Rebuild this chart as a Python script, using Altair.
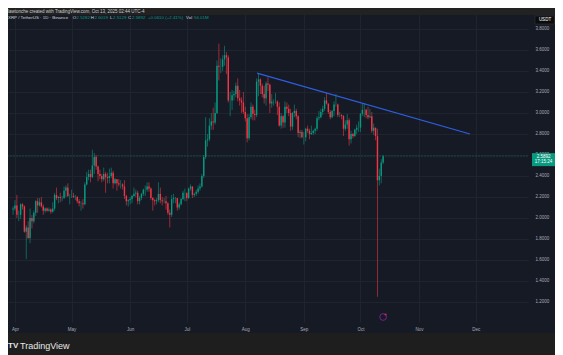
import altair as alt
import pandas as pd

# ---- Daily candles XRP/USDT (Binance, 1D), 2025-03-31 .. 2025-10-13 ----
mar_o = [2.08]
mar_h = [2.11]
mar_l = [2.03]
mar_c = [2.09]

apr_o = [2.09, 2.12, 2.03, 2.03, 2.13, 2.11, 1.87, 1.91, 1.81, 2.00, 1.97, 2.05, 2.16, 2.12, 2.15,
         2.11, 2.07, 2.09, 2.07, 2.08, 2.06, 2.09, 2.22, 2.19, 2.20, 2.19, 2.19, 2.26, 2.29, 2.21]
apr_h = [2.17, 2.22, 2.07, 2.14, 2.14, 2.12, 1.93, 1.97, 2.09, 2.03, 2.07, 2.17, 2.19, 2.19, 2.20,
         2.13, 2.10, 2.10, 2.10, 2.09, 2.15, 2.24, 2.29, 2.21, 2.24, 2.21, 2.30, 2.31, 2.33, 2.23]
apr_l = [2.07, 2.00, 1.97, 1.99, 2.08, 1.86, 1.61, 1.80, 1.76, 1.90, 1.95, 2.02, 2.05, 2.11, 2.10,
         2.03, 2.05, 2.06, 2.06, 2.04, 2.05, 2.07, 2.17, 2.14, 2.15, 2.16, 2.18, 2.20, 2.20, 2.13]
apr_c = [2.12, 2.03, 2.03, 2.13, 2.11, 1.87, 1.91, 1.81, 2.00, 1.97, 2.05, 2.16, 2.12, 2.15, 2.11,
         2.07, 2.09, 2.07, 2.08, 2.06, 2.09, 2.22, 2.19, 2.20, 2.19, 2.19, 2.26, 2.29, 2.21, 2.21]

may_o = [2.21, 2.21, 2.20, 2.20, 2.16, 2.14, 2.14, 2.13, 2.32, 2.39, 2.42, 2.39, 2.50, 2.58, 2.49, 2.42,
         2.40, 2.37, 2.42, 2.39, 2.38, 2.40, 2.43, 2.33, 2.37, 2.33, 2.32, 2.32, 2.30, 2.21, 2.16]
may_h = [2.27, 2.24, 2.22, 2.21, 2.18, 2.16, 2.18, 2.34, 2.44, 2.46, 2.46, 2.65, 2.62, 2.60, 2.50, 2.46,
         2.42, 2.48, 2.44, 2.43, 2.47, 2.48, 2.45, 2.38, 2.37, 2.37, 2.36, 2.33, 2.36, 2.22, 2.18]
may_l = [2.19, 2.19, 2.17, 2.14, 2.11, 2.07, 2.09, 2.12, 2.31, 2.36, 2.34, 2.38, 2.42, 2.46, 2.35, 2.37,
         2.34, 2.35, 2.24, 2.33, 2.33, 2.38, 2.28, 2.32, 2.26, 2.30, 2.28, 2.27, 2.18, 2.12, 2.11]
may_c = [2.21, 2.20, 2.20, 2.16, 2.14, 2.14, 2.13, 2.32, 2.39, 2.42, 2.39, 2.50, 2.58, 2.49, 2.42, 2.40,
         2.37, 2.42, 2.39, 2.38, 2.40, 2.43, 2.33, 2.37, 2.33, 2.32, 2.32, 2.30, 2.21, 2.16, 2.17]

jun_o = [2.17, 2.18, 2.21, 2.23, 2.24, 2.16, 2.19, 2.23, 2.27, 2.27, 2.30, 2.28, 2.19, 2.17, 2.16,
         2.17, 2.23, 2.17, 2.16, 2.16, 2.14, 2.05, 2.03, 2.18, 2.19, 2.19, 2.10, 2.13, 2.18, 2.24]
jun_h = [2.20, 2.22, 2.29, 2.27, 2.26, 2.21, 2.24, 2.28, 2.31, 2.34, 2.34, 2.29, 2.20, 2.18, 2.19,
         2.34, 2.29, 2.20, 2.19, 2.21, 2.15, 2.08, 2.22, 2.23, 2.20, 2.19, 2.15, 2.19, 2.26, 2.28]
jun_l = [2.13, 2.14, 2.20, 2.20, 2.13, 2.13, 2.17, 2.21, 2.21, 2.25, 2.25, 2.17, 2.07, 2.12, 2.13,
         2.15, 2.14, 2.12, 2.14, 2.08, 2.03, 1.91, 2.01, 2.14, 2.14, 2.07, 2.08, 2.12, 2.17, 2.16]
jun_c = [2.18, 2.21, 2.23, 2.24, 2.16, 2.19, 2.23, 2.27, 2.27, 2.30, 2.28, 2.19, 2.17, 2.16, 2.17,
         2.23, 2.17, 2.16, 2.16, 2.14, 2.05, 2.03, 2.18, 2.19, 2.19, 2.10, 2.13, 2.18, 2.24, 2.24]

jul_o = [2.24, 2.19, 2.28, 2.30, 2.22, 2.23, 2.25, 2.28, 2.30, 2.40, 2.58, 2.74, 2.75, 2.88, 2.92, 2.91,
         3.00, 3.45, 3.44, 3.44, 3.51, 3.55, 3.53, 3.12, 3.12, 3.17, 3.18, 3.26, 3.14, 3.12, 3.10]
jul_h = [2.24, 2.29, 2.32, 2.30, 2.24, 2.27, 2.31, 2.33, 2.42, 2.60, 2.96, 2.80, 2.95, 3.00, 3.05, 3.10,
         3.50, 3.66, 3.52, 3.55, 3.64, 3.58, 3.55, 3.20, 3.22, 3.21, 3.29, 3.33, 3.22, 3.15, 3.20]
jul_l = [2.16, 2.18, 2.26, 2.19, 2.20, 2.21, 2.23, 2.26, 2.29, 2.38, 2.56, 2.68, 2.73, 2.84, 2.84, 2.89,
         2.99, 3.31, 3.38, 3.40, 3.45, 3.37, 3.10, 2.97, 3.03, 3.12, 3.15, 3.11, 3.07, 3.00, 2.99]
jul_c = [2.19, 2.28, 2.30, 2.22, 2.23, 2.25, 2.28, 2.30, 2.40, 2.58, 2.74, 2.75, 2.88, 2.92, 2.91, 3.00,
         3.45, 3.44, 3.44, 3.51, 3.55, 3.53, 3.12, 3.12, 3.17, 3.18, 3.26, 3.14, 3.12, 3.10, 3.01]

aug_o = [3.01, 2.95, 2.76, 2.96, 3.06, 2.99, 2.98, 3.30, 3.32, 3.26, 3.18, 3.14, 3.28, 3.27, 3.09, 3.11,
         3.11, 3.11, 3.06, 2.88, 2.97, 2.91, 3.06, 3.04, 3.00, 2.87, 3.00, 3.02, 2.97, 2.81, 2.82]
aug_h = [3.06, 2.99, 2.99, 3.10, 3.08, 3.03, 3.33, 3.38, 3.33, 3.28, 3.26, 3.30, 3.34, 3.28, 3.18, 3.13,
         3.19, 3.12, 3.10, 3.00, 2.98, 3.11, 3.10, 3.08, 3.04, 3.01, 3.08, 3.04, 2.98, 2.84, 2.84]
aug_l = [2.92, 2.72, 2.74, 2.94, 2.93, 2.93, 2.96, 3.16, 3.18, 3.15, 3.09, 3.07, 3.21, 3.00, 3.05, 3.07,
         3.09, 2.98, 2.87, 2.85, 2.86, 2.86, 3.00, 2.97, 2.83, 2.84, 2.96, 2.94, 2.77, 2.76, 2.76]
aug_c = [2.95, 2.76, 2.96, 3.06, 2.99, 2.98, 3.30, 3.32, 3.26, 3.18, 3.14, 3.28, 3.27, 3.09, 3.11, 3.11,
         3.11, 3.06, 2.88, 2.97, 2.91, 3.06, 3.04, 3.00, 2.87, 3.00, 3.02, 2.97, 2.81, 2.82, 2.77]

sep_o = [2.77, 2.77, 2.85, 2.83, 2.80, 2.81, 2.83, 2.85, 2.95, 2.96, 3.01, 3.04, 3.12, 3.09, 3.01,
         2.96, 3.02, 3.08, 3.08, 2.98, 2.98, 2.97, 2.85, 2.89, 2.93, 2.75, 2.80, 2.78, 2.84, 2.86]
sep_h = [2.82, 2.86, 2.88, 2.85, 2.88, 2.84, 2.86, 2.97, 3.02, 3.04, 3.07, 3.15, 3.19, 3.09, 3.03,
         3.03, 3.11, 3.18, 3.09, 3.01, 2.99, 2.98, 2.93, 2.99, 2.95, 2.83, 2.81, 2.85, 2.89, 2.92]
sep_l = [2.70, 2.73, 2.81, 2.75, 2.79, 2.79, 2.80, 2.83, 2.93, 2.95, 2.98, 3.02, 3.08, 2.99, 2.94,
         2.95, 2.97, 3.06, 2.96, 2.96, 2.94, 2.78, 2.83, 2.85, 2.69, 2.71, 2.76, 2.77, 2.80, 2.82]
sep_c = [2.77, 2.85, 2.83, 2.80, 2.81, 2.83, 2.85, 2.95, 2.96, 3.01, 3.04, 3.12, 3.09, 3.01, 2.96,
         3.02, 3.08, 3.08, 2.98, 2.98, 2.97, 2.85, 2.89, 2.93, 2.75, 2.80, 2.78, 2.84, 2.86, 2.86]

oct_o = [2.86, 2.99, 3.03, 3.03, 2.98, 2.96, 2.97, 2.83, 2.86, 2.78, 2.36, 2.40, 2.5282]
oct_h = [3.00, 3.09, 3.09, 3.04, 3.06, 3.04, 3.01, 2.90, 2.86, 2.85, 2.47, 2.56, 2.6019]
oct_l = [2.82, 2.97, 2.96, 2.95, 2.94, 2.95, 2.81, 2.79, 2.74, 1.25, 2.31, 2.33, 2.5129]
oct_c = [2.99, 3.03, 3.03, 2.98, 2.96, 2.97, 2.83, 2.86, 2.78, 2.36, 2.40, 2.5282, 2.5892]

opens = mar_o + apr_o + may_o + jun_o + jul_o + aug_o + sep_o + oct_o
highs = mar_h + apr_h + may_h + jun_h + jul_h + aug_h + sep_h + oct_h
lows = mar_l + apr_l + may_l + jun_l + jul_l + aug_l + sep_l + oct_l
closes = mar_c + apr_c + may_c + jun_c + jul_c + aug_c + sep_c + oct_c

price_ticks = [1.2, 1.4, 1.6, 1.8, 2.0, 2.2, 2.4, 2.6, 2.8, 3.0, 3.2, 3.4, 3.6, 3.8]
month_ticks = [4, 5, 6, 7, 8, 9, 10, 11, 12]

trend_dates = ["2025-08-07T05:00:00", "2025-11-28T00:00:00"]
trend_prices = [3.38, 2.80]

event_dates = ["2025-10-13T00:00:00"]

volume_text = "56.01M"
change_text = "+0.0610 (+2.41%)"

# ---- styling ----
PANE = "#161a25"
GRID = "#20242f"
TOPBAR = "#222222"
BOTBAR = "#1e1e1e"
GREEN = "#089981"
RED = "#f23645"
BLUE = "#2f5fe0"
LABEL = "#a8abb4"
FONT = "Liberation Sans"

W, H = 520, 309

df = pd.DataFrame({
    "date": pd.date_range("2025-03-31", periods=len(closes), freq="D"),
    "open": opens, "high": highs, "low": lows, "close": closes,
})
df["dir"] = ["up" if c >= o else "down" for o, c in zip(opens, closes)]

last_o, last_h, last_l, last_c = opens[-1], highs[-1], lows[-1], closes[-1]

x_scale = alt.Scale(domain=[alt.DateTime(year=2025, month=3, date=30, hours=23, minutes=4),
                            alt.DateTime(year=2025, month=12, date=26, hours=2, minutes=10)])
y_scale = alt.Scale(domain=[1.00952, 3.95238], zero=False, nice=False)
col_scale = alt.Scale(domain=["up", "down"], range=[GREEN, RED])

x_axis = alt.Axis(values=[alt.DateTime(year=2025, month=m, date=1) for m in month_ticks],
                  format="%b", title=None, grid=True, gridColor=GRID, gridWidth=1,
                  domain=False, ticks=False, labelFontSize=4.5, labelColor=LABEL,
                  labelFont=FONT, labelPadding=4, labelFlush=False, labelOverlap=False)
y_axis = alt.Axis(orient="right", values=price_ticks, format=".4f", title=None, grid=True,
                  gridColor=GRID, gridWidth=1, domain=False, ticks=False, labelAlign="left",
                  labelBaseline="middle", labelPadding=7, labelFontSize=4.5, labelColor=LABEL,
                  labelFont=FONT, labelOverlap=False, labelSeparation=0)

base = alt.Chart(df)
wicks = base.mark_rule(strokeWidth=0.6, clip=True).encode(
    x=alt.X("date:T", scale=x_scale, axis=x_axis),
    y=alt.Y("low:Q", scale=y_scale, axis=y_axis),
    y2="high:Q",
    color=alt.Color("dir:N", scale=col_scale, legend=None),
)
bodies = base.mark_bar(size=1.4, clip=True).encode(
    x=alt.X("date:T", axis=x_axis),
    y=alt.Y("open:Q", axis=y_axis),
    y2="close:Q",
    color=alt.Color("dir:N", scale=col_scale, legend=None),
)

trend = alt.Chart(pd.DataFrame({"date": trend_dates, "price": trend_prices})).mark_line(
    color=BLUE, strokeWidth=1.3).encode(x=alt.X("date:T", axis=x_axis), y=alt.Y("price:Q", axis=y_axis))

one = pd.DataFrame({"k": [0]})

price_line = alt.Chart(one).mark_rule(color=GREEN, strokeDash=[2, 1], opacity=0.4, strokeWidth=0.8).encode(
    y=alt.Y(datum=last_c, axis=y_axis))

price_box = alt.Chart(one).mark_rect(color=GREEN, yOffset=-3, y2Offset=10).encode(
    x=alt.value(524), x2=alt.value(547), y=alt.Y(datum=last_c, axis=y_axis), y2=alt.datum(last_c))
price_txt = alt.Chart(one).mark_text(text=f"{last_c:.4f}", fontSize=4.5, color="white", font=FONT,
                                     align="center", baseline="middle", dy=0.5).encode(
    x=alt.value(535.5), y=alt.Y(datum=last_c, axis=y_axis))
time_txt = alt.Chart(one).mark_text(text="17:15:24", fontSize=4.5, color="white", font=FONT,
                                    align="center", baseline="middle", dy=6).encode(
    x=alt.value(535.5), y=alt.Y(datum=last_c, axis=y_axis))

event_ring = alt.Chart(pd.DataFrame({"date": event_dates})).mark_point(
    shape="circle", size=45, color="#9c27b0", strokeWidth=1, filled=False).encode(
    x=alt.X("date:T", axis=x_axis), y=alt.value(304))
event_dot = alt.Chart(pd.DataFrame({"date": event_dates})).mark_point(
    shape="circle", size=5, color=RED, filled=True, xOffset=2.5).encode(
    x=alt.X("date:T", axis=x_axis), y=alt.value(301.5))


def rect(x, x2, y, y2, color):
    return alt.Chart(one).mark_rect(color=color).encode(
        x=alt.value(x), x2=alt.value(x2), y=alt.value(y), y2=alt.value(y2))


def label(text, x, y, size=4.5, color="#d1d4dc", weight="normal", align="left"):
    return alt.Chart(one).mark_text(text=text, fontSize=size, color=color, font=FONT,
                                    fontWeight=weight, align=align, baseline="middle").encode(
        x=alt.value(x), y=alt.value(y))


top_bar = rect(0, 547, -5, 2, TOPBAR)
bottom_bar = rect(0, 547, 320, 342, BOTBAR)

top_text = label("lawtonche created with TradingView.com, Oct 13, 2025 02:44 UTC-4", 0, -1.5, color="#d0d0d0")

LS = 4.4
legend = [
    label("XRP / TetherUS · 1D · Binance", 0, 5.3, size=LS),
    label("O", 64.7, 5.3, size=LS), label(f"{last_o:.4f}", 68.5, 5.3, size=LS, color=GREEN),
    label("H", 82.7, 5.3, size=LS), label(f"{last_h:.4f}", 86.5, 5.3, size=LS, color=GREEN),
    label("L", 102, 5.3, size=LS), label(f"{last_l:.4f}", 105, 5.3, size=LS, color=GREEN),
    label("C", 120, 5.3, size=LS), label(f"{last_c:.4f}", 124, 5.3, size=LS, color=GREEN),
    label(change_text, 140, 5.3, size=LS, color=GREEN),
    label("Vol", 178, 5.3, size=LS), label(volume_text, 186, 5.3, size=LS, color=GREEN),
]

usdt_box = alt.Chart(one).mark_rect(color="#0c0c0c", stroke="#3a3a3a", strokeWidth=0.5).encode(
    x=alt.value(527), x2=alt.value(546.5), y=alt.value(3), y2=alt.value(11))
usdt_txt = label("USDT", 537, 7, color="white", align="center")

logo_icon = label("TV", 0, 333, size=8, color="#e8e8e8", weight="bold")
logo_txt = label("TradingView", 12, 333, size=9, color="#e8e8e8")

chart = alt.layer(
    wicks, bodies, price_line, trend, event_ring, event_dot,
    price_box, price_txt, time_txt,
    top_bar, bottom_bar, top_text, *legend, usdt_box, usdt_txt,
    logo_icon, logo_txt,
).properties(
    width=W, height=H,
    autosize=alt.AutoSizeParams(type="none"),
    padding={"left": 0, "top": 5, "right": 27, "bottom": 33},
    background=PANE,
).configure_view(strokeWidth=0).configure_axis(labelOverlap=False, labelSeparation=0)

chart.save("out.html", embed_options={"renderer": "svg", "actions": False})
